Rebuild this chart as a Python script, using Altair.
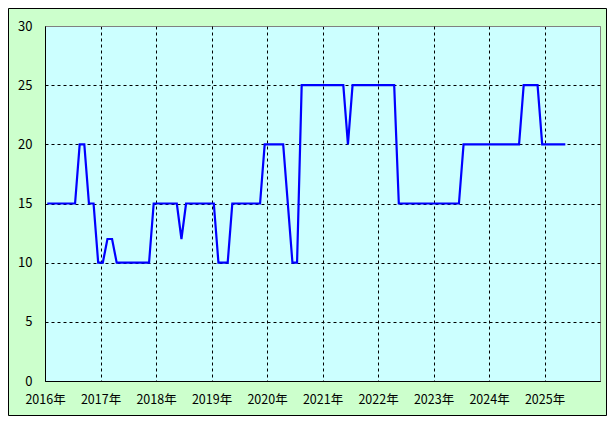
import altair as alt
import pandas as pd

# Monthly values, Jan 2016 .. May 2025
years = list(range(2016, 2026))
values_2016 = [15, 15, 15, 15, 15, 15, 15, 20, 20, 15, 15, 10]
values_2017 = [10, 12, 12, 10, 10, 10, 10, 10, 10, 10, 10, 15]
values_2018 = [15, 15, 15, 15, 15, 12, 15, 15, 15, 15, 15, 15]
values_2019 = [15, 10, 10, 10, 15, 15, 15, 15, 15, 15, 15, 20]
values_2020 = [20, 20, 20, 20, 15, 10, 10, 25, 25, 25, 25, 25]
values_2021 = [25, 25, 25, 25, 25, 20, 25, 25, 25, 25, 25, 25]
values_2022 = [25, 25, 25, 25, 15, 15, 15, 15, 15, 15, 15, 15]
values_2023 = [15, 15, 15, 15, 15, 15, 20, 20, 20, 20, 20, 20]
values_2024 = [20, 20, 20, 20, 20, 20, 20, 25, 25, 25, 25, 20]
values_2025 = [20, 20, 20, 20, 20]

year_values = [values_2016, values_2017, values_2018, values_2019, values_2020,
               values_2021, values_2022, values_2023, values_2024, values_2025]

y_ticks = [0, 5, 10, 15, 20, 25, 30]
x_ticks = years

rows = []
for yr, vals in zip(years, year_values):
    for m, v in enumerate(vals):
        rows.append({"t": yr + (m + 0.5) / 12.0, "v": v})
df = pd.DataFrame(rows)

FONT = "Noto Sans CJK JP"

line = alt.Chart(df).mark_line(color="#0000ff", strokeWidth=2.2, clip=True).encode(
    x=alt.X("t:Q",
            scale=alt.Scale(domain=[2016, 2026], nice=False, zero=False),
            axis=alt.Axis(values=x_ticks, labelExpr="datum.value + '年'",
                          title=None, ticks=False, tickSize=0, labelPadding=12,
                          grid=True, gridColor="black", gridDash=[3, 3],
                          domainColor="black", labelFlush=False, labelFontSize=12.5)),
    y=alt.Y("v:Q",
            scale=alt.Scale(domain=[0, 30], nice=False),
            axis=alt.Axis(values=y_ticks, title=None, ticks=False, tickSize=0,
                          labelPadding=13, grid=True, labelFontSize=13,
                          gridColor={"condition": {"test": "datum.value == 30", "value": "#808080"},
                                     "value": "black"},
                          gridDash=[3, 3], domainColor="black")),
)

frame = alt.Chart(alt.Data(values=[{"a": 1}])).mark_rect(
    fillOpacity=0, stroke="black", strokeWidth=1, clip=False
).encode(
    x=alt.value(-36.5), x2=alt.value(561.5), y=alt.value(-17.5), y2=alt.value(389.5)
)

chart = alt.layer(line, frame).properties(
    width=555, height=355,
    background="#ccffcc",
    padding={"left": 37, "top": 18, "right": 7, "bottom": 35},
    autosize=alt.AutoSizeParams(type="none"),
).configure_view(
    fill="#ccffff", stroke="#808080", strokeWidth=1
).configure_axis(
    labelFont=FONT, labelColor="black", domainWidth=1, gridWidth=1, gridOpacity=1
)

chart.save("out.html", embed_options={"renderer": "svg", "actions": False})
